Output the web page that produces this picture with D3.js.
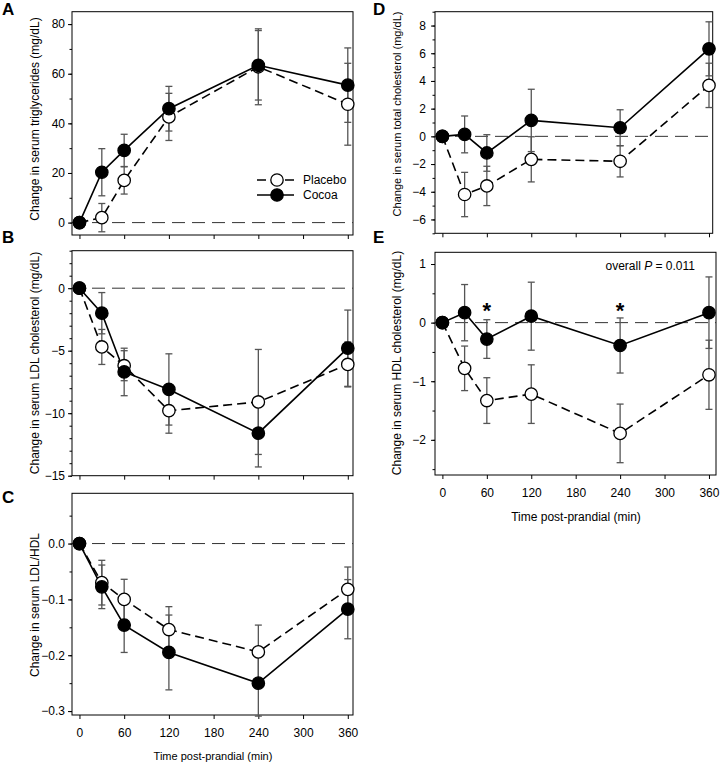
<!DOCTYPE html>
<html><head><meta charset="utf-8">
<script src="https://cdn.jsdelivr.net/npm/d3@7"></script>
<style>
body{margin:0;background:#fff;}
svg text{font-family:"Liberation Sans",Arial,sans-serif;fill:#000;}
</style></head>
<body><svg id="chart" width="722" height="764"></svg>
<script>
// ---- data ----
const times = [0, 30, 60, 120, 240, 360];
const xTicks = [0, 60, 120, 180, 240, 300, 360];
const seriesNames = ["Placebo", "Cocoa"];

// A: triglycerides
const placeboTG = [0, 2.0, 17.0, 42.6, 62.8, 47.7];
const placeboTGErr = [0, 5.7, 5.5, 9.5, 15.3, 16.5];
const cocoaTG = [0, 20.3, 29.1, 45.9, 63.4, 55.4];
const cocoaTGErr = [0, 9.5, 6.5, 9.0, 14.0, 15.0];
const yTicksA = [0, 20, 40, 60, 80];

// B: LDL cholesterol
const placeboLDL = [0, -4.7, -6.2, -9.8, -9.1, -6.1];
const placeboLDLErr = [0, 1.4, 1.2, 1.8, 4.2, 1.8];
const cocoaLDL = [0, -2.0, -6.7, -8.1, -11.6, -4.8];
const cocoaLDLErr = [0, 1.65, 1.9, 2.85, 2.7, 3.05];
const yTicksB = [0, -5, -10, -15];

// C: LDL/HDL
const placeboRatio = [0, -0.070, -0.100, -0.154, -0.194, -0.082];
const placeboRatioErr = [0, 0.040, 0.036, 0.041, 0.048, 0.040];
const cocoaRatio = [0, -0.0775, -0.146, -0.195, -0.250, -0.1175];
const cocoaRatioErr = [0, 0.039, 0.049, 0.067, 0.059, 0.053];
const yTicksC = [0, -0.1, -0.2, -0.3];

// D: total cholesterol
const placeboTC = [0, -4.2, -3.58, -1.66, -1.8, 3.68];
const placeboTCErr = [0, 1.6, 1.42, 1.63, 1.13, 1.6];
const cocoaTC = [0, 0.14, -1.2, 1.15, 0.62, 6.32];
const cocoaTCErr = [0, 1.33, 1.32, 2.25, 1.3, 1.95];
const yTicksD = [8, 6, 4, 2, 0, -2, -4, -6];

// E: HDL cholesterol
const placeboHDL = [0, -0.78, -1.33, -1.22, -1.89, -0.89];
const placeboHDLErr = [0, 0.38, 0.39, 0.5, 0.5, 0.59];
const cocoaHDL = [0, 0.17, -0.28, 0.11, -0.39, 0.17];
const cocoaHDLErr = [0, 0.48, 0.33, 0.58, 0.47, 0.61];
const yTicksE = [1, 0, -1, -2];
const sigTimesE = [60, 240];
const pText = "overall P = 0.011";

// ---- layout ----
const svg = d3.select("#chart");
const panels = [
  {id:"A", x0:72, x1:353, y0:11.7, y1:235, xd:[-10,367], yd:[-5,85], ticks:yTicksA, minor:d3.range(-0,86,10), fmt:d3.format("d"),
   title:"Change in serum triglycerides (mg/dL)", tx:35, ty:119, tfs:12, label:[2,15], pad:3,
   p:placeboTG, pe:placeboTGErr, c:cocoaTG, ce:cocoaTGErr, xlab:false},
  {id:"B", x0:72, x1:353, y0:250.7, y1:475.7, xd:[-10,367], yd:[-15,3], ticks:yTicksB, minor:d3.range(-15,3.01,1), fmt:d3.format("d"),
   title:"Change in serum LDL cholesterol (mg/dL)", tx:35, ty:363, tfs:12, label:[2,243], pad:3,
   p:placeboLDL, pe:placeboLDLErr, c:cocoaLDL, ce:cocoaLDLErr, xlab:false},
  {id:"C", x0:72, x1:353, y0:493.3, y1:715, xd:[-10,367], yd:[-0.307,0.09], ticks:yTicksC, minor:d3.range(-0.3,0.09,0.05), fmt:d3.format(".1f"),
   title:"Change in serum LDL/HDL", tx:35, ty:605, tfs:12, label:[2,503], pad:3,
   p:placeboRatio, pe:placeboRatioErr, c:cocoaRatio, ce:cocoaRatioErr, xlab:true, xtitle:[213,760,11]},
  {id:"D", x0:435, x1:712.7, y0:11.7, y1:233.3, xd:[-10,365], yd:[-7,9], ticks:yTicksD, minor:d3.range(-7,9.01,1), fmt:d3.format("d"),
   title:"Change in serum total cholesterol (mg/dL)", tx:397, ty:114, tfs:11, label:[373,15], pad:5,
   p:placeboTC, pe:placeboTCErr, c:cocoaTC, ce:cocoaTCErr, xlab:false},
  {id:"E", x0:435, x1:716, y0:252.3, y1:475, xd:[-10,369.5], yd:[-2.6,1.2], ticks:yTicksE, minor:d3.range(-2.5,1.21,0.5), fmt:d3.format("d"),
   title:"Change in serum HDL cholesterol (mg/dL)", tx:397, ty:363, tfs:12, label:[373,243], pad:5,
   p:placeboHDL, pe:placeboHDLErr, c:cocoaHDL, ce:cocoaHDLErr, xlab:true, xtitle:[576,521,12]}
];

panels.forEach(P => {
  const x = d3.scaleLinear().domain(P.xd).range([P.x0, P.x1]);
  const y = d3.scaleLinear().domain(P.yd).range([P.y1, P.y0]);
  const g = svg.append("g");

  // frame
  g.append("rect").attr("x", P.x0).attr("y", P.y0).attr("width", P.x1-P.x0).attr("height", P.y1-P.y0)
    .attr("fill","none").attr("stroke","#000").attr("stroke-width",1);

  // minor y ticks
  const ym = g.append("g").attr("transform",`translate(${P.x0},0)`)
    .call(d3.axisLeft(y).tickValues(P.minor).tickSize(2.5).tickFormat(""));
  ym.select(".domain").remove();
  ym.selectAll("line").attr("stroke","#000");

  // major y ticks
  const ya = g.append("g").attr("transform",`translate(${P.x0},0)`)
    .call(d3.axisLeft(y).tickValues(P.ticks).tickSize(4).tickPadding(P.pad).tickFormat(P.fmt));
  ya.select(".domain").remove();
  ya.selectAll("line").attr("stroke","#000");
  ya.selectAll("text").attr("font-size",12).attr("font-family",'"Liberation Sans",Arial,sans-serif').attr("fill","#000");

  // x ticks
  const xa = g.append("g").attr("transform",`translate(0,${P.y1})`)
    .call(d3.axisBottom(x).tickValues(xTicks).tickSize(4).tickPadding(9.5).tickFormat(P.xlab ? d3.format("d") : ""));
  xa.select(".domain").remove();
  xa.selectAll("line").attr("stroke","#000");
  xa.selectAll("text").attr("font-size",12).attr("font-family",'"Liberation Sans",Arial,sans-serif').attr("fill","#000");

  // y title
  g.append("text").attr("transform",`translate(${P.tx},${P.ty}) rotate(-90)`)
    .attr("text-anchor","middle").attr("dy","0.35em").attr("font-size",P.tfs).text(P.title);

  // x title
  if (P.xtitle) {
    g.append("text").attr("x",P.xtitle[0]).attr("y",P.xtitle[1]).attr("text-anchor","middle")
      .attr("font-size",P.xtitle[2]).text("Time post-prandial (min)");
  }

  // panel letter
  g.append("text").attr("x",P.label[0]).attr("y",P.label[1]).attr("font-size",17).attr("font-weight","bold").text(P.id);

  // zero reference line
  g.append("line").attr("x1",P.x0).attr("x2",P.x1).attr("y1",y(0)).attr("y2",y(0))
    .attr("stroke","#333").attr("stroke-width",1).attr("stroke-dasharray","13,7");

  const series = [
    {vals:P.p, errs:P.pe, fill:"#fff", dash:"9,5"},
    {vals:P.c, errs:P.ce, fill:"#000", dash:null}
  ];
  // error bars
  series.forEach(s => {
    times.forEach((t,i) => {
      const e = s.errs[i];
      if (!e) return;
      const cx = x(t), yt = y(s.vals[i]+e), yb = y(s.vals[i]-e);
      g.append("line").attr("x1",cx).attr("x2",cx).attr("y1",yt).attr("y2",yb).attr("stroke","#555").attr("stroke-width",1.3);
      [yt,yb].forEach(yy => g.append("line").attr("x1",cx-3.5).attr("x2",cx+3.5).attr("y1",yy).attr("y2",yy).attr("stroke","#555").attr("stroke-width",1.3));
    });
  });
  // lines
  const line = d3.line().x((d,i)=>x(times[i])).y(d=>y(d));
  series.forEach(s => {
    g.append("path").attr("d", line(s.vals)).attr("fill","none").attr("stroke","#000")
      .attr("stroke-width",1.6).attr("stroke-dasharray", s.dash);
  });
  // markers
  series.forEach(s => {
    g.selectAll(null).data(s.vals).enter().append("circle")
      .attr("cx",(d,i)=>x(times[i])).attr("cy",d=>y(d)).attr("r",6.2)
      .attr("fill",s.fill).attr("stroke","#000").attr("stroke-width",1.3);
  });

  if (P.id === "A") {
    // legend
    const lg = g.append("g");
    const rows = [{name:seriesNames[0], fill:"#fff", dash:"9,5", yy:180},{name:seriesNames[1], fill:"#000", dash:null, yy:195}];
    rows.forEach(r => {
      lg.append("line").attr("x1",257).attr("x2",294).attr("y1",r.yy).attr("y2",r.yy)
        .attr("stroke","#000").attr("stroke-width",1.6).attr("stroke-dasharray",r.dash);
      lg.append("circle").attr("cx",277).attr("cy",r.yy).attr("r",6.2).attr("fill",r.fill).attr("stroke","#000").attr("stroke-width",1.3);
      lg.append("text").attr("x",303).attr("y",r.yy).attr("dy","0.35em").attr("font-size",12).text(r.name);
    });
  }
  if (P.id === "E") {
    sigTimesE.forEach(t => {
      g.append("text").attr("x",x(t)).attr("y",y(0.28)+12).attr("text-anchor","middle")
        .attr("font-size",22).attr("font-weight","bold").text("*");
    });
    const pt = g.append("text").attr("x",695).attr("y",270).attr("text-anchor","end").attr("font-size",12);
    const parts = pText.split("P");
    pt.append("tspan").text(parts[0]);
    pt.append("tspan").attr("font-style","italic").text("P");
    pt.append("tspan").text(parts[1]);
  }
});
</script></body></html>
